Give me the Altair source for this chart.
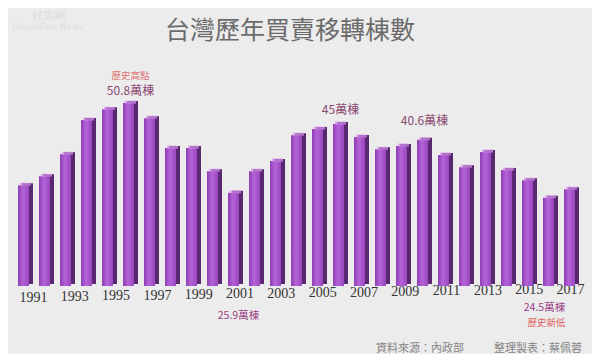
import altair as alt
import pandas as pd

# ---- data (unit: 萬棟) ----
years = [str(y) for y in range(1991, 2018)]
values = [28.0, 30.5, 36.6, 46.1, 49.1, 50.8, 46.6, 38.3, 38.3, 31.9,
          25.9, 31.9, 34.7, 41.9, 43.6, 45.0, 41.4, 38.0, 38.9, 40.6,
          36.4, 33.0, 37.2, 32.2, 29.4, 24.5, 26.9]
tick_years = [str(y) for y in range(1991, 2018, 2)]

title_text = "台灣歷年買賣移轉棟數"

# annotations: year, text, anchored value, dy, dx, color, size
ann_years = ["1996", "1996", "2006", "2010", "2001", "2016", "2016"]
ann_texts = ["歷史高點", "50.8萬棟", "45萬棟", "40.6萬棟", "25.9萬棟", "24.5萬棟", "歷史新低"]
ann_values = [50.8, 50.8, 45.0, 40.6, 0, 0, 0]
ann_dy = [-22, -5, -7, -12, 30, 22, 37]
ann_dx = [2, 2, 2, 2, 5, -4, -2]
ann_colors = ["#e07070", "#8a4a72", "#8a4a72", "#8a4a72", "#9a3f86", "#9a3f86", "#e06060"]
ann_sizes = [9.5, 12, 12, 12, 10.5, 10.5, 9.5]

footer_texts = ["資料來源：內政部", "整理製表：蔡佩蓉"]

CJK = "Noto Sans CJK TC"

df = pd.DataFrame({"year": years, "value": values})

x_enc = alt.X(
    "year:O",
    scale=alt.Scale(domain=years, paddingInner=0.4, paddingOuter=0.2),
    axis=alt.Axis(values=tick_years, labelAngle=0, labelFont="Liberation Serif",
                  labelFontSize=14, labelColor="#333333",
                  labelOffset=alt.ExprRef("10 - 9*(toNumber(datum.value)-1991)/26"),
                  labelPadding=alt.ExprRef("4 - 8*(toNumber(datum.value)-1991)/26"),
                  labelBound=False,
                  domain=False, ticks=False, grid=False, title=None),
)
y_enc = alt.Y("value:Q", scale=alt.Scale(domain=[0, 60]), axis=None)

base = alt.Chart(df).encode(x=x_enc, y=y_enc)

side = base.mark_bar(size=11, color="#5a2870", xOffset=4, yOffset=-2)
body = base.mark_bar(
    size=11,
    color=alt.Gradient(
        gradient="linear",
        stops=[alt.GradientStop(color="#8f3db3", offset=0),
               alt.GradientStop(color="#b464d8", offset=0.45),
               alt.GradientStop(color="#9846bd", offset=1)],
        x1=0, x2=1, y1=0, y2=0,
    ),
)
cap = base.mark_tick(size=11, thickness=3, color="#d690ec", xOffset=2, yOffset=-1)

layers = [side, body, cap]

for yr, txt, v, dy, dx, col, sz in zip(ann_years, ann_texts, ann_values, ann_dy,
                                       ann_dx, ann_colors, ann_sizes):
    adf = pd.DataFrame({"year": [yr], "value": [v], "label": [txt]})
    layers.append(
        alt.Chart(adf).mark_text(
            font=CJK, fontSize=sz, color=col, dy=dy, dx=dx,
            baseline="bottom" if v > 0 else "middle",
        ).encode(x=alt.X("year:O"), y=alt.Y("value:Q"), text="label:N")
    )

# title
tdf = pd.DataFrame({"label": [title_text]})
layers.append(
    alt.Chart(tdf).mark_text(font=CJK, fontSize=25, color="#6b6b6b", baseline="middle")
    .encode(x=alt.value(277), y=alt.value(-39), text="label:N")
)

# footer credits
fdf = pd.DataFrame({"label": footer_texts, "px": [407, 525]})
layers.append(
    alt.Chart(fdf).mark_text(font=CJK, fontSize=11, color="#858585", baseline="middle")
    .encode(x=alt.X("px:Q", scale=None), y=alt.value(279), text="label:N")
)

# faint watermark
wdf = pd.DataFrame({"label": ["好房網", "HouseFun News"], "py": [-54, -43], "fs": [11, 9]})
layers.append(
    alt.Chart(wdf).mark_text(font="DejaVu Sans", color="#dcdcdc", baseline="middle")
    .encode(x=alt.value(35), y=alt.Y("py:Q", scale=None), text="label:N",
            size=alt.Size("fs:Q", scale=None, legend=None))
)

chart = alt.layer(*layers).properties(
    width=567,
    height=216,
    background="#ececec",
    padding={"left": 5, "right": 12, "top": 62, "bottom": 68},
    autosize=alt.AutoSizeParams(type="none"),
).configure_view(stroke=None)

chart.save("out.html", embed_options={"renderer": "svg", "actions": False})
